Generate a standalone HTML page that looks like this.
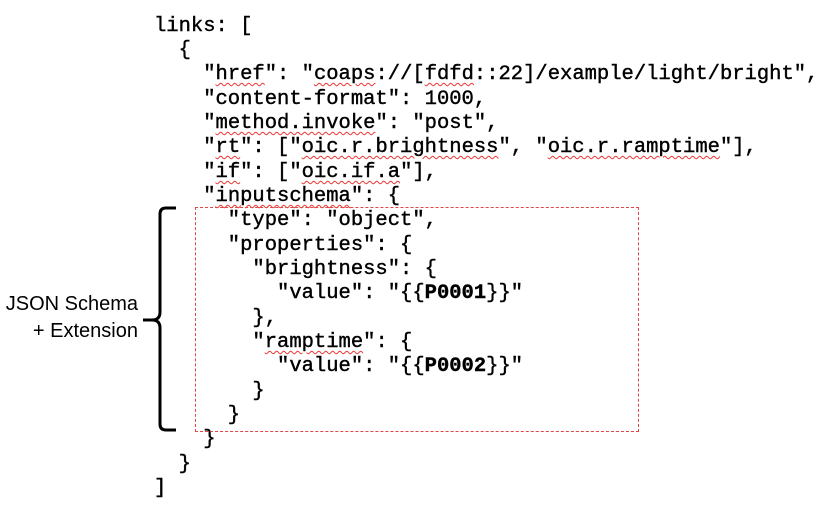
<!DOCTYPE html>
<html><head><meta charset="utf-8"><style>
body{margin:0;width:825px;height:522px;background:#fff;position:relative;overflow:hidden}
.l{position:absolute;left:154px;font-family:"Liberation Mono",monospace;font-size:20.5px;line-height:24px;height:24px;white-space:pre;color:#000;-webkit-text-stroke:0.4px #000}
u{text-decoration:underline wavy #e33;text-decoration-thickness:1px;text-underline-offset:3px}
.lab{position:absolute;font-family:"Liberation Sans",sans-serif;font-size:20px;color:#000;text-align:right;width:140px;left:0}
</style></head><body>
<div class="l" style="top:15px">links: [</div>
<div class="l" style="top:39px">  {</div>
<div class="l" style="top:63px">    "<u>href</u>": "<u>coaps</u>://[<u>fdfd</u>::22]/example/light/bright",</div>
<div class="l" style="top:88px">    "content-format": 1000,</div>
<div class="l" style="top:112px">    "<u>method.invoke</u>": "post",</div>
<div class="l" style="top:136px">    "<u>rt</u>": ["<u>oic.r.brightness</u>", "<u>oic.r.ramptime</u>"],</div>
<div class="l" style="top:161px">    "<u>if</u>": ["<u>oic.if.a</u>"],</div>
<div class="l" style="top:185px">    "<u>inputschema</u>": {</div>
<div class="l" style="top:209px">      "type": "object",</div>
<div class="l" style="top:234px">      "properties": {</div>
<div class="l" style="top:258px">        "brightness": {</div>
<div class="l" style="top:282px">          "value": "{{<b>P0001</b>}}"</div>
<div class="l" style="top:307px">        },</div>
<div class="l" style="top:331px">        "<u>ramptime</u>": {</div>
<div class="l" style="top:355px">          "value": "{{<b>P0002</b>}}"</div>
<div class="l" style="top:380px">        }</div>
<div class="l" style="top:404px">      }</div>
<div class="l" style="top:428px">    }</div>
<div class="l" style="top:453px">  }</div>
<div class="l" style="top:477px">]</div>
<div style="position:absolute;left:195px;top:207px;width:442px;height:223px;border:1px dashed #e04848"></div>
<svg style="position:absolute;left:0;top:0" width="825" height="522">
<path d="M176,208 H166 Q160,208 160,214 V312 Q160,320 152,320 H143 M152,320 Q160,320 160,328 V424 Q160,430 166,430 H176" fill="none" stroke="#000" stroke-width="3"/>
</svg>
<div class="lab" style="top:293px;left:-2px">JSON Schema</div>
<div class="lab" style="top:320px;left:-2px">+ Extension</div>
</body></html>
